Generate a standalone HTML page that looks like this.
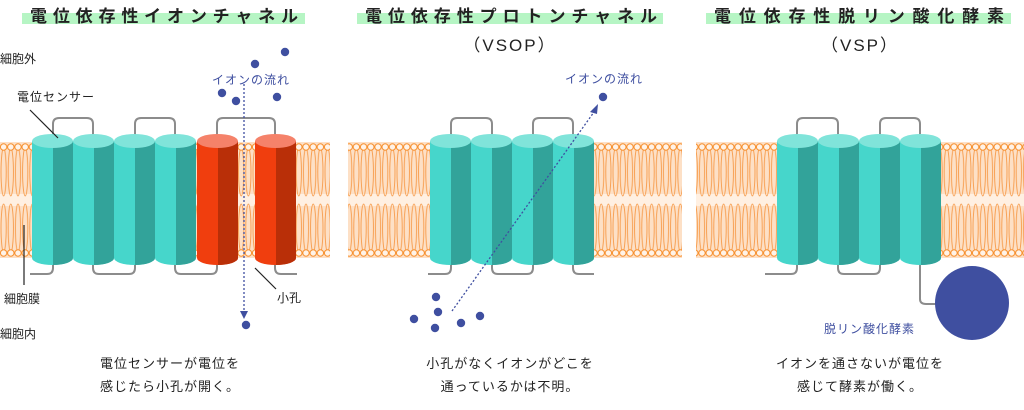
<!DOCTYPE html>
<html><head><meta charset="utf-8"><style>
html,body{margin:0;padding:0;background:#fff;}
svg{display:block;font-family:"Liberation Sans","Noto Sans CJK JP",sans-serif;}
</style></head><body>
<svg width="1024" height="410" viewBox="0 0 1024 410" xmlns="http://www.w3.org/2000/svg">
<defs>
<pattern id="lip" x="0" y="142" width="7.2" height="116" patternUnits="userSpaceOnUse">
<rect x="0" y="0" width="7.2" height="116" fill="#fde0c6"/>
<rect x="0" y="52" width="7.2" height="12" fill="#fff0e2"/>
<ellipse cx="3.6" cy="30" rx="2.6" ry="24" fill="none" stroke="#f79a48" stroke-width="0.9"/>
<ellipse cx="3.6" cy="86" rx="2.6" ry="24" fill="none" stroke="#f79a48" stroke-width="0.9"/>
<circle cx="3.6" cy="5" r="3.2" fill="#fff3e8" stroke="#f7902e" stroke-width="1"/>
<circle cx="3.6" cy="111" r="3.2" fill="#fff3e8" stroke="#f7902e" stroke-width="1"/>
</pattern>
<clipPath id="cb"><path d="M0 141 V258 A20.5 7 0 0 0 41 258 V141 Z"/></clipPath>
<g id="tc">
<path d="M0 141 V258 A20.5 7 0 0 0 41 258 V141 Z" fill="#46d6cb"/>
<rect x="21" y="141" width="20" height="130" fill="#32a39a" clip-path="url(#cb)"/>
<ellipse cx="20.5" cy="141" rx="20.5" ry="7" fill="#80e4da"/>
</g>
<g id="rc">
<path d="M0 141 V258 A20.5 7 0 0 0 41 258 V141 Z" fill="#f03e0e"/>
<rect x="21" y="141" width="20" height="130" fill="#b92f08" clip-path="url(#cb)"/>
<ellipse cx="20.5" cy="141" rx="20.5" ry="7" fill="#f5826a"/>
</g>
</defs>

<!-- titles -->
<rect x="22" y="13" width="283" height="11" fill="#b6f5c4"/>
<text x="30" y="22" font-size="17" font-weight="bold" fill="#222" textLength="268" lengthAdjust="spacing">電位依存性イオンチャネル</text>
<rect x="357" y="13" width="306" height="11" fill="#b6f5c4"/>
<text x="365" y="22" font-size="17" font-weight="bold" fill="#222" textLength="292" lengthAdjust="spacing">電位依存性プロトンチャネル</text>
<text x="510" y="51" font-size="17" fill="#222" text-anchor="middle" letter-spacing="2">（VSOP）</text>
<rect x="706" y="13" width="305" height="11" fill="#b6f5c4"/>
<text x="714" y="22" font-size="17" font-weight="bold" fill="#222" textLength="290" lengthAdjust="spacing">電位依存性脱リン酸化酵素</text>
<text x="860" y="51" font-size="17" fill="#222" text-anchor="middle" letter-spacing="2">（VSP）</text>

<!-- membranes -->
<rect x="0" y="142" width="330" height="116" fill="url(#lip)"/>
<rect x="348" y="142" width="334" height="116" fill="url(#lip)"/>
<rect x="696" y="142" width="328" height="116" fill="url(#lip)"/>

<g fill="none" stroke="#8c8c8c" stroke-width="2">
<path d="M53 141 V124 Q53 118 59 118 H87 Q93 118 93 124 V141"/>
<path d="M135 141 V124 Q135 118 141 118 H169 Q175 118 175 124 V141"/>
<path d="M217 141 V124 Q217 118 223 118 H269 Q275 118 275 124 V141"/>
<path d="M30 274 H47 Q53 274 53 268 V258"/>
<path d="M93 258 V268 Q93 274 99 274 H129 Q135 274 135 268 V258"/>
<path d="M175 258 V268 Q175 274 181 274 H211 Q217 274 217 268 V258"/>
<path d="M275 258 V268 Q275 274 281 274 H297"/>
<path d="M451 141 V124 Q451 118 457 118 H486 Q492 118 492 124 V141"/>
<path d="M533 141 V124 Q533 118 539 118 H567 Q573 118 573 124 V141"/>
<path d="M428 274 H445 Q451 274 451 268 V258"/>
<path d="M492 258 V268 Q492 274 498 274 H527 Q533 274 533 268 V258"/>
<path d="M573 258 V268 Q573 274 579 274 H594"/>
<path d="M797 141 V124 Q797 118 803 118 H832 Q838 118 838 124 V141"/>
<path d="M880 141 V124 Q880 118 886 118 H914 Q920 118 920 124 V141"/>
<path d="M765 274 H791 Q797 274 797 268 V258"/>
<path d="M838 258 V268 Q838 274 844 274 H874 Q880 274 880 268 V258"/>
<path d="M920 258 V299 Q920 304 926 304 H940"/>
</g>

<use href="#tc" x="32"/><use href="#tc" x="73"/><use href="#tc" x="114"/><use href="#tc" x="155"/>
<use href="#rc" x="197"/><use href="#rc" x="255"/>
<use href="#tc" x="430"/><use href="#tc" x="471"/><use href="#tc" x="512"/><use href="#tc" x="553"/>
<use href="#tc" x="777"/><use href="#tc" x="818"/><use href="#tc" x="859"/><use href="#tc" x="900"/>

<g stroke="#3f4fa0" stroke-width="1.3" stroke-dasharray="2,2" fill="none">
<line x1="244" y1="84" x2="244" y2="312"/>
<line x1="452" y1="311" x2="594" y2="112"/>
</g>
<polygon points="240,311 248,311 244,319" fill="#3f4fa0"/>
<polygon points="598,104 590,112 597,114" fill="#3f4fa0"/>

<g fill="#3f4fa0">
<circle cx="285" cy="52" r="4.2"/><circle cx="255" cy="64" r="4.2"/><circle cx="222" cy="93" r="4.2"/>
<circle cx="236" cy="101" r="4.2"/><circle cx="277" cy="97" r="4.2"/><circle cx="246" cy="325" r="4.2"/>
<circle cx="603" cy="97" r="4.2"/><circle cx="436" cy="297" r="4.2"/><circle cx="438" cy="312" r="4.2"/>
<circle cx="414" cy="319" r="4.2"/><circle cx="435" cy="328" r="4.2"/><circle cx="461" cy="323" r="4.2"/>
<circle cx="480" cy="316" r="4.2"/>
<circle cx="972" cy="303" r="37"/>
</g>

<g font-size="12" fill="#222">
<text x="0" y="63">細胞外</text>
<text x="17" y="101" letter-spacing="1">電位センサー</text>
<text x="4" y="303">細胞膜</text>
<text x="0" y="338">細胞内</text>
<text x="277" y="302">小孔</text>
</g>
<g stroke="#222" stroke-width="1.2">
<line x1="30" y1="110" x2="58" y2="138"/>
<line x1="24" y1="225" x2="24" y2="285"/>
<line x1="255" y1="268" x2="276" y2="289"/>
</g>
<g font-size="12" fill="#3f4fa0" letter-spacing="1">
<text x="212" y="84">イオンの流れ</text>
<text x="565" y="83">イオンの流れ</text>
<text x="824" y="333">脱リン酸化酵素</text>
</g>
<g font-size="13" fill="#222" text-anchor="middle" letter-spacing="1">
<text x="170" y="368">電位センサーが電位を</text>
<text x="170" y="391">感じたら小孔が開く。</text>
<text x="510" y="368">小孔がなくイオンがどこを</text>
<text x="510" y="391">通っているかは不明。</text>
<text x="860" y="368">イオンを通さないが電位を</text>
<text x="860" y="391">感じて酵素が働く。</text>
</g>
</svg>
</body></html>
